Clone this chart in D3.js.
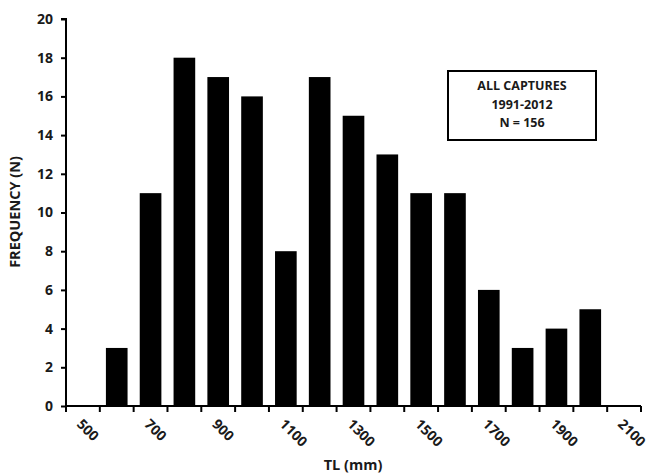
<!DOCTYPE html>
<html>
<head>
<meta charset="utf-8">
<script src="https://cdn.jsdelivr.net/npm/d3@7"></script>
<style>
body{margin:0;background:#fff;}
text{font-family:"Open Sans",sans-serif;font-weight:700;fill:#1a1a1a;}
</style>
</head>
<body>
<script>
// TL classes (mm) and counts
const classes=[500,600,700,800,900,1000,1100,1200,1300,1400,1500,1600,1700,1800,1900,2000,2100]
const counts=[0,3,11,18,17,16,8,17,15,13,11,11,6,3,4,5,0]
const yTicks=[0,2,4,6,8,10,12,14,16,18,20]
const boxLines=["ALL CAPTURES","1991-2012","N = 156"]

const width=646, height=473
const mLeft=66, mRight=641, mTop=19, mBottom=406

const svg=d3.select("body").append("svg").attr("width",width).attr("height",height)

const x=d3.scaleBand().domain(classes).range([mLeft,mRight]).paddingInner(0.36).paddingOuter(0.18)
const y=d3.scaleLinear().domain([0,20]).range([mBottom,mTop])
const step=x.step()

// bars
svg.selectAll("rect.bar").data(classes.map((c,i)=>({c,v:counts[i]})).filter(d=>d.v>0))
  .enter().append("rect").attr("class","bar")
  .attr("x",d=>x(d.c)).attr("width",x.bandwidth())
  .attr("y",d=>y(d.v)).attr("height",d=>y(0)-y(d.v))
  .attr("fill","#000")

// y axis
const yAxis=d3.axisLeft(y).tickValues(yTicks).tickSize(5).tickPadding(8)
const gy=svg.append("g").attr("transform",`translate(${mLeft},0)`).call(yAxis)
gy.select(".domain").attr("stroke","#000").attr("stroke-width",2).attr("d",`M-5,${mTop}H0V${mBottom}`)
gy.selectAll(".tick line").attr("stroke","#000").attr("stroke-width",2)
gy.selectAll(".tick text").style("font-size","14px").attr("fill","#222")
  .style("font-family","'Open Sans',sans-serif").style("font-weight",700)

// x axis, ticks at class boundaries
const gx=svg.append("g")
gx.append("line").attr("x1",mLeft).attr("x2",mRight).attr("y1",mBottom).attr("y2",mBottom)
  .attr("stroke","#000").attr("stroke-width",2)
gx.selectAll("line.tk").data(d3.range(classes.length+1)).enter().append("line").attr("class","tk")
  .attr("x1",i=>mLeft+i*step).attr("x2",i=>mLeft+i*step)
  .attr("y1",mBottom).attr("y2",mBottom+6).attr("stroke","#000").attr("stroke-width",2)
gx.selectAll("text").data(classes.filter(c=>(c-500)%200===0)).enter().append("text")
  .attr("transform",d=>`translate(${x(d)+x.bandwidth()/2-7},${mBottom+19}) rotate(45)`)
  .style("font-size","14px").attr("fill","#222")
  .text(d=>d)

// axis titles
svg.append("text").attr("x",353).attr("y",470).attr("text-anchor","middle")
  .style("font-size","14.5px").text("TL (mm)")
svg.append("text").attr("transform","translate(20,212) rotate(-90)").attr("text-anchor","middle")
  .style("font-size","14.5px").text("FREQUENCY (N)")

// info box
svg.append("rect").attr("x",448).attr("y",71).attr("width",148).attr("height",69)
  .attr("fill","#fff").attr("stroke","#000").attr("stroke-width",2)
svg.selectAll("text.box").data(boxLines).enter().append("text").attr("class","box")
  .attr("x",522).attr("y",(d,i)=>90+i*18.5).attr("text-anchor","middle")
  .style("font-size","12.5px").text(d=>d)
</script>
</body>
</html>
